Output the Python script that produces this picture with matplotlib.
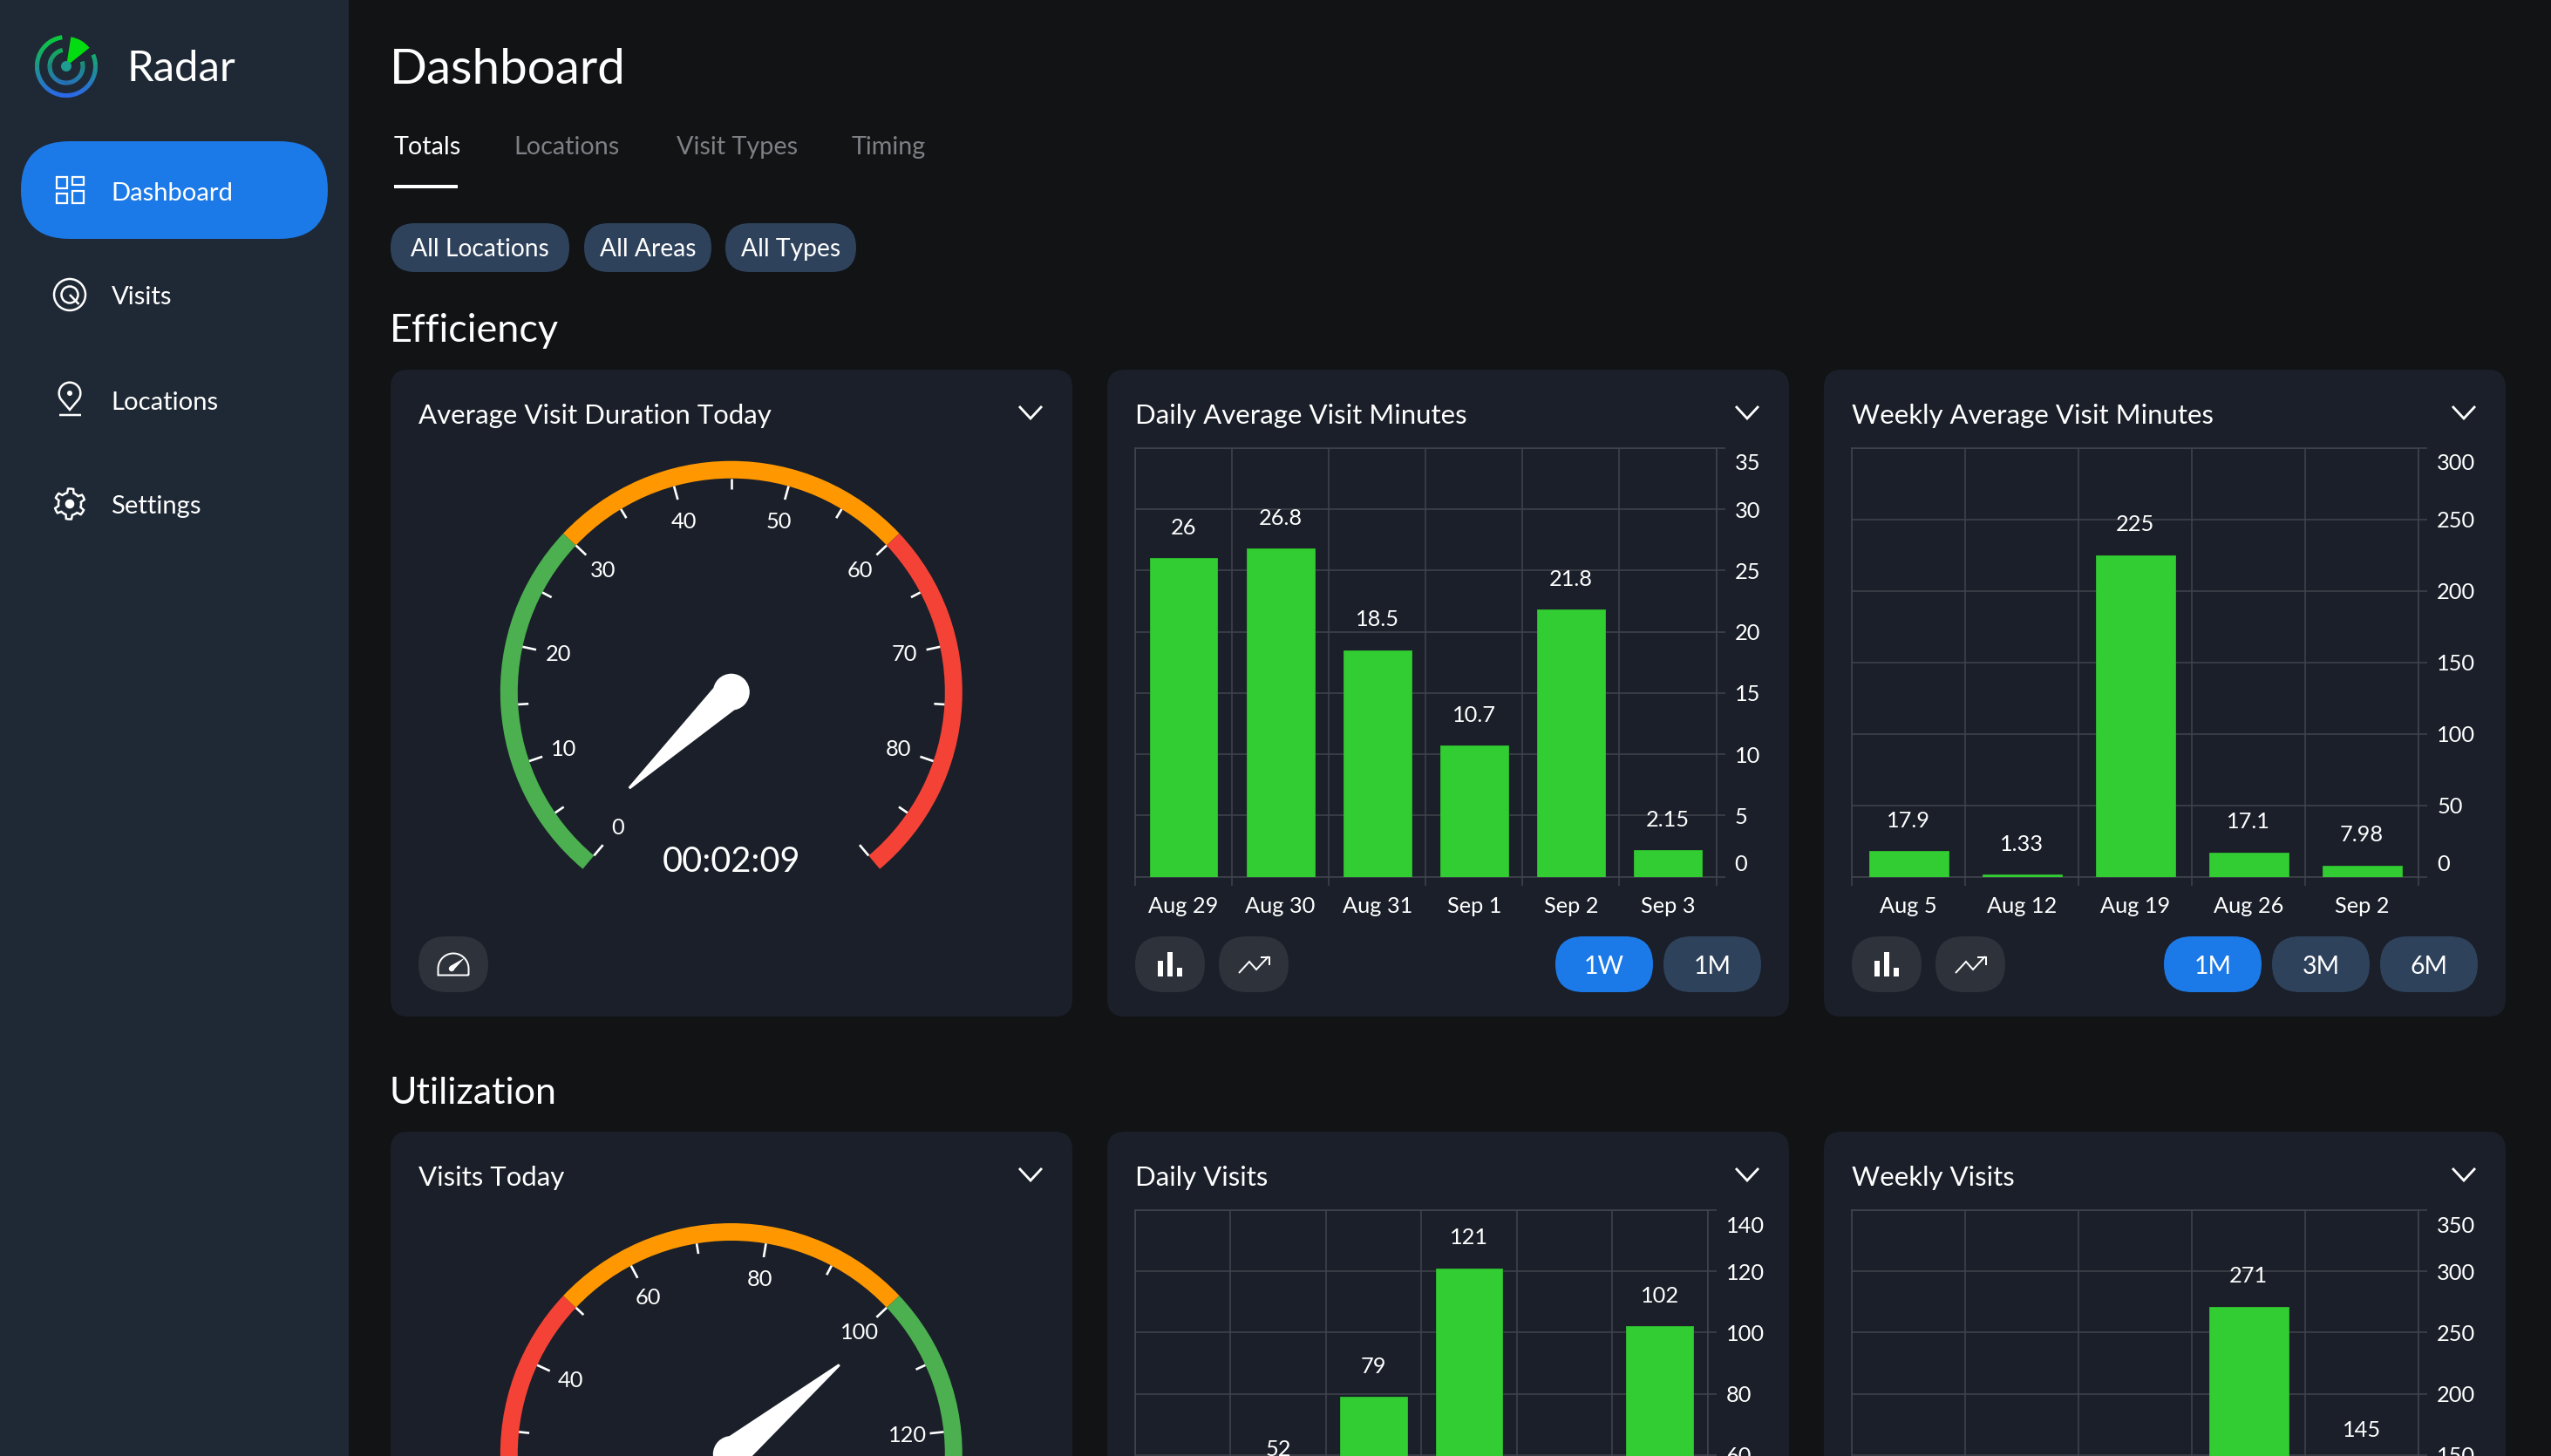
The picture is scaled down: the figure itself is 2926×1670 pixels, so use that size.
import numpy as np
import matplotlib
matplotlib.use('Agg')
import matplotlib.pyplot as plt
import matplotlib.transforms as mtransforms
from matplotlib.patches import Circle, FancyBboxPatch, Polygon, Rectangle, Wedge
from matplotlib.text import Text

W, H = 2926, 1670
FONT = 'Lato'

# chart values
nav_items = ['Dashboard', 'Visits', 'Locations', 'Settings']
tabs = ['Totals', 'Locations', 'Visit Types', 'Timing']
filters = ['All Locations', 'All Areas', 'All Types']

avg_duration_value = 2.15
avg_duration_text = '00:02:09'
avg_duration_stops = [0, 30, 60, 90]
avg_duration_ticks = [0, 10, 20, 30, 40, 50, 60, 70, 80]

daily_avg_days = ['Aug 29', 'Aug 30', 'Aug 31', 'Sep 1', 'Sep 2', 'Sep 3']
daily_avg_minutes = [26, 26.8, 18.5, 10.7, 21.8, 2.15]
daily_avg_yticks = [0, 5, 10, 15, 20, 25, 30, 35]

weekly_avg_weeks = ['Aug 5', 'Aug 12', 'Aug 19', 'Aug 26', 'Sep 2']
weekly_avg_minutes = [17.9, 1.33, 225, 17.1, 7.98]
weekly_avg_yticks = [0, 50, 100, 150, 200, 250, 300]

visits_today_value = 102
visits_today_stops = [0, 50, 100, 150]
visits_today_ticks = [0, 20, 40, 60, 80, 100, 120, 140]

# first and fifth day and first three weeks sit below the crop, those are guesses
daily_visits_days = ['Aug 29', 'Aug 30', 'Aug 31', 'Sep 1', 'Sep 2', 'Sep 3']
daily_visits = [38, 52, 79, 121, 21, 102]
daily_visits_yticks = [0, 20, 40, 60, 80, 100, 120, 140]

weekly_visits_weeks = ['Aug 5', 'Aug 12', 'Aug 19', 'Aug 26', 'Sep 2']
weekly_visits = [48, 36, 62, 271, 145]
weekly_visits_yticks = [0, 50, 100, 150, 200, 250, 300, 350]

BG = '#111315'
SIDE = '#1f2935'
CARD = '#1a1f29'
BLUE = '#1c7ae8'
CHIP = '#2f425c'
ROUND = '#2e323b'
GRID = '#40444d'
BAR = '#32cd32'
GREY = '#7d8084'
GOOD, WARN, BAD = '#4caf50', '#ff9800', '#f44336'

plt.rcParams['font.family'] = [FONT, 'DejaVu Sans']

fig = plt.figure(figsize=(W / 100, H / 100), dpi=100, facecolor=BG)


def box(l, t, r, b):
    return [l / W, 1 - b / H, (r - l) / W, (b - t) / H]


ui = fig.add_axes([0, 0, 1, 1], zorder=0)
ui.set_xlim(0, W)
ui.set_ylim(H, 0)
ui.axis('off')


def label(x, y, s, px, color='white', ha='left', ax=ui):
    # y is the middle of the capitals
    return ax.text(x, y + 0.36 * px, s, fontsize=px * 0.72, color=color, ha=ha, va='baseline')


def pill(l, t, r, b, color, rad=None):
    rad = (b - t) / 2 if rad is None else rad
    ui.add_patch(FancyBboxPatch((l + rad, t + rad), r - l - 2 * rad, b - t - 2 * rad,
                                boxstyle='round,pad=%f,rounding_size=%f' % (rad, rad),
                                fc=color, ec='none'))


def stroke(xs, ys, lw=2.5, color='white'):
    ui.plot(xs, ys, color=color, lw=lw * 0.72, solid_capstyle='butt', solid_joinstyle='miter')


def ring(x, y, r, lw=2.5, color='white', fill='none'):
    ui.add_patch(Circle((x, y), r, fc=fill, ec=color, lw=lw * 0.72))


def chevron(x, y):
    stroke([x, x + 13, x + 26], [y, y + 14, y], lw=2.8)


def bar_icon(x):
    for dx, top in zip([26, 37, 48], [1102, 1092, 1110]):
        ui.add_patch(Rectangle((x + dx, top), 6, 1120 - top, fc='white', ec='none'))


def trend_icon(x):
    stroke(x + np.array([23, 35, 43, 57]), [1116, 1103, 1112, 1097], lw=2)
    stroke(x + np.array([48, 58, 58]), [1097.5, 1097.5, 1107], lw=2)


# page chrome
ui.add_patch(Rectangle((0, 0), 400, H, fc=SIDE, ec='none'))
pill(24, 162, 376, 274, BLUE)

label(145, 75.5, 'Radar', 49)
label(447, 76, 'Dashboard', 56.5)
label(447, 376, 'Efficiency', 45)
label(447, 1251, 'Utilization', 43)

for s, y in zip(nav_items, [219, 338.5, 459, 578.5]):
    label(127.5, y, s, 29.3)

for s, x, c in zip(tabs, [452, 589.5, 776.5, 977], ['white', GREY, GREY, GREY]):
    label(x, 167, s, 28.8, color=c)
ui.add_patch(Rectangle((452, 211.5), 73, 4, fc='white', ec='none'))

for s, l, r in zip(filters, [448, 670, 832], [653, 816, 982]):
    pill(l, 256, r, 312, CHIP)
    label((l + r) / 2, 284, s, 28.2, ha='center')

# logo
logo = fig.add_axes(box(30, 30, 122, 122), zorder=1)
logo.set_xlim(-46, 46)
logo.set_ylim(-46, 46)
logo.axis('off')
logo_top = np.array(matplotlib.colors.to_rgb('#08d63a'))
logo_mid = np.array(matplotlib.colors.to_rgb('#1d9c90'))
logo_low = np.array(matplotlib.colors.to_rgb('#2d6cf2'))


def logo_color(y):
    t = np.clip((36 - y) / 72, 0, 1)
    if t < 0.5:
        return logo_top + (logo_mid - logo_top) * t * 2
    return logo_mid + (logo_low - logo_mid) * (t - 0.5) * 2


for r_out, width, start, end in [(36, 5, 98, 381), (21.5, 5, 103, 376)]:
    for a in np.arange(start, end, 3):
        y = r_out * np.sin(np.radians(a + 1.5))
        logo.add_patch(Wedge((0, 0), r_out, a, a + 3.3, width=width, fc=logo_color(y), ec='none'))
logo.add_patch(Wedge((0, 0), 34, 38.5, 81, fc='#04dc12', ec='none'))
logo.add_patch(Circle((0, 0), 6, fc=logo_mid, ec='none'))

# sidebar icons
for l, t, r, b in [(64.5, 203, 77, 216), (83, 203, 95.5, 211.5), (64.5, 222, 77, 233), (83, 219, 95.5, 233)]:
    ui.add_patch(Rectangle((l, t), r - l, b - t, fc='none', ec='white', lw=1.6))

ring(80, 338, 18)
ring(80, 338, 9.5)
stroke([80, 90.5], [338, 349])

pin_a = np.radians(np.linspace(-35, 215, 60))
pin_x = np.r_[80 + 12.3 * np.cos(pin_a), 80]
pin_y = np.r_[451 - 12.3 * np.sin(pin_a), 470]
ui.add_patch(Polygon(np.c_[pin_x, pin_y], closed=True, fc='none', ec='white', lw=1.8))
ui.add_patch(Circle((80, 451), 3, fc='white', ec='none'))
stroke([67.5, 92.5], [476, 476])

gear_a = np.radians(np.linspace(0, 360, 55)[:-1] + 90 - 7)
gear_r = np.resize(np.array([17.5, 17.5, 17.5, 13, 13, 13, 13, 13, 17.5]), 54)
ui.add_patch(Polygon(np.c_[80 + gear_r * np.cos(gear_a), 578 - gear_r * np.sin(gear_a)],
                     closed=True, fc='none', ec='white', lw=1.8))
ui.add_patch(Circle((80, 578), 5.3, fc='white', ec='none'))

# cards
for top in [424, 1298]:
    for l, r in [(448, 1230), (1270, 2052), (2092, 2874)]:
        pill(l, top, r, top + 742, CARD, rad=20)

titles = [['Average Visit Duration Today', 'Daily Average Visit Minutes', 'Weekly Average Visit Minutes'],
          ['Visits Today', 'Daily Visits', 'Weekly Visits']]
for row, y in zip(titles, [475, 1349]):
    for s, x in zip(row, [480, 1302, 2124]):
        label(x, y, s, 31.2)
    for x in [1169, 1991, 2813]:
        chevron(x, y - 9)


def gauge(cx, cy, value, stops, colors, ticks, sub, text):
    half = 300
    ax = fig.add_axes(box(cx - half, cy - half, cx + half, cy + half), zorder=1)
    ax.set_xlim(-half, half)
    ax.set_ylim(-half, half)
    ax.axis('off')
    vmax = stops[-1]

    def angle(v):
        return 230 - 280 * v / vmax

    for lo, hi, c in zip(stops[:-1], stops[1:], colors):
        ax.add_patch(Wedge((0, 0), 265, angle(hi), angle(lo), width=20, fc=c, ec='none'))

    for v in np.arange(0, vmax + 1, sub):
        a = np.radians(angle(v))
        n = 16 if v % (2 * sub) == 0 else 12
        ax.plot([245 * np.cos(a), (245 - n) * np.cos(a)], [245 * np.sin(a), (245 - n) * np.sin(a)],
                color='white', lw=1.9, solid_capstyle='butt')

    for v in ticks:
        a = np.radians(angle(v))
        ax.text(203 * np.cos(a), 203 * np.sin(a), str(v), color='white', fontsize=18.3,
                ha='center', va='center')

    a = np.radians(angle(value))
    d = np.array([np.cos(a), np.sin(a)])
    p = np.array([-d[1], d[0]])
    ax.add_patch(Polygon([d * 161 + p * 1.5, d * 161 - p * 1.5, d * 11.5 - p * 17.5, d * 11.5 + p * 17.5],
                         closed=True, fc='white', ec='none'))
    ax.add_patch(Circle((0, 0), 21, fc='white', ec='none'))
    ax.text(0, -195, text, color='white', fontsize=28.5, ha='center', va='center')


gauge(838.8, 793.7, avg_duration_value, avg_duration_stops, [GOOD, WARN, BAD],
      avg_duration_ticks, 5, avg_duration_text)
gauge(838.8, 1668, visits_today_value, visits_today_stops, [BAD, WARN, GOOD],
      visits_today_ticks, 10, str(visits_today_value))


def bar_chart(l, t, r, b, cats, vals, yticks):
    ax = fig.add_axes(box(l, t, r, b), zorder=1)
    ax.patch.set_visible(False)
    n = len(cats)
    pos = np.arange(n) + 0.5
    ax.bar(pos, vals, width=0.7, color=BAR, edgecolor='#2fb52f', lw=0.7, zorder=3)
    ax.set_xlim(0, n)
    ax.set_ylim(yticks[0], yticks[-1])
    ax.set_xticks(np.arange(n + 1))
    ax.set_xticklabels([])
    ax.set_xticks(pos, labels=cats, minor=True)
    ax.set_yticks(yticks)
    ax.yaxis.tick_right()
    ax.set_axisbelow(True)
    ax.grid(True, which='major', color=GRID, lw=1.1)
    for s in ax.spines.values():
        s.set_color(GRID)
        s.set_linewidth(1.1)
    ax.tick_params(which='major', color=GRID, width=1.1, length=7.2, labelcolor='white',
                   labelsize=18.3, pad=8)
    ax.tick_params(axis='x', which='minor', length=0, labelcolor='white', labelsize=18.3, pad=16)
    ax.tick_params(axis='y', which='minor', length=0)
    # top and bottom y labels sit inside the plot range
    ylabs = ax.get_yticklabels()
    for lab, dy in [(ylabs[0], 16), (ylabs[-1], -16)]:
        lab.set_transform(lab.get_transform() + mtransforms.ScaledTranslation(0, dy / 100, fig.dpi_scale_trans))
    for x, v in zip(pos, vals):
        ax.annotate(str(v), (x, v), xytext=(0, 35), textcoords='offset pixels', color='white',
                    fontsize=18.3, ha='center', va='center', annotation_clip=False, zorder=4)
    return ax


bar_chart(1302, 514, 1968.5, 1005.6, daily_avg_days, daily_avg_minutes, daily_avg_yticks)
bar_chart(2124, 514, 2774, 1005.6, weekly_avg_weeks, weekly_avg_minutes, weekly_avg_yticks)
bar_chart(1302, 1388, 1958.5, 1879.6, daily_visits_days, daily_visits, daily_visits_yticks)
bar_chart(2124, 1388, 2774, 1879.6, weekly_visits_weeks, weekly_visits, weekly_visits_yticks)

# card footers
pill(480, 1074, 560, 1138, ROUND)
dome = np.radians(np.linspace(0, 180, 40))
stroke(np.r_[537.5, 520 + 17.5 * np.cos(dome), 502.5, 537.5],
       np.r_[1118.5, 1111 - 17.5 * np.sin(dome), 1118.5, 1118.5], lw=2)
ui.add_patch(Polygon([(533, 1098.5), (516.5, 1108), (520, 1113)], closed=True, fc='white', ec='none'))
ui.add_patch(Circle((518, 1111), 3.2, fc='white', ec='none'))

for x in [1302, 2124]:
    pill(x, 1074, x + 80, 1138, ROUND)
    pill(x + 96, 1074, x + 176, 1138, ROUND)
    bar_icon(x)
    trend_icon(x + 96)

for s, l, c in [('1W', 1784, BLUE), ('1M', 1908, CHIP), ('1M', 2482, BLUE), ('3M', 2606, CHIP), ('6M', 2730, CHIP)]:
    pill(l, 1074, l + 112, 1138, c)
    label(l + 56, 1107, s, 28.5, ha='center')

# the second row runs off the page, texts wholly below it are not in the picture
fig.canvas.draw()
renderer = fig.canvas.get_renderer()
for t in fig.findobj(Text):
    if t.get_visible() and t.get_text() and t.get_window_extent(renderer).y1 < 0:
        t.set_visible(False)

fig.savefig('out.png', dpi=100, facecolor=BG)
